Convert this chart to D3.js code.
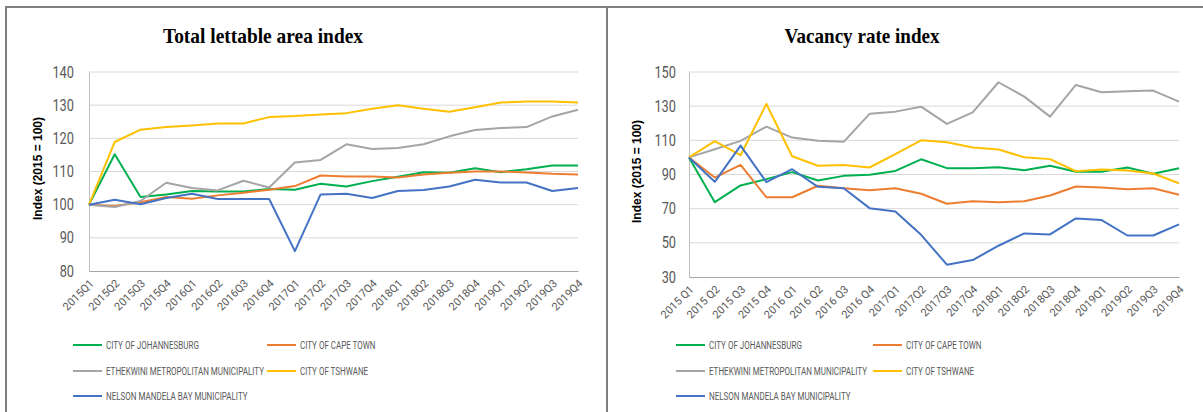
<!DOCTYPE html>
<html>
<head>
<meta charset="utf-8">
<script src="https://cdn.jsdelivr.net/npm/d3@7"></script>
<style>
  html, body { margin: 0; padding: 0; background: #fff; }
  svg { display: block; }
</style>
</head>
<body>
<svg id="chart" width="1203" height="412"></svg>
<script>
// Quarter labels for each panel
const quartersLettable = ["2015Q1","2015Q2","2015Q3","2015Q4","2016Q1","2016Q2","2016Q3","2016Q4",
  "2017Q1","2017Q2","2017Q3","2017Q4","2018Q1","2018Q2","2018Q3","2018Q4","2019Q1","2019Q2","2019Q3","2019Q4"];
const quartersVacancy = ["2015 Q1","2015 Q2","2015 Q3","2015 Q4","2016 Q1","2016 Q2","2016 Q3","2016 Q4",
  "2017Q1","2017Q2","2017Q3","2017Q4","2018Q1","2018Q2","2018Q3","2018Q4","2019Q1","2019Q2","2019Q3","2019Q4"];

const seriesNames = ["CITY OF JOHANNESBURG","CITY OF CAPE TOWN","ETHEKWINI METROPOLITAN MUNICIPALITY",
  "CITY OF TSHWANE","NELSON MANDELA BAY MUNICIPALITY"];

// Total lettable area index (2015 = 100)
const lettableJhb = [100,115.2,102.3,103.1,104.1,104,104,104.7,104.5,106.3,105.5,107.1,108.4,109.8,109.6,111,109.8,110.7,111.8,111.8];
const lettableCpt = [100,99.6,100.7,102.3,101.8,102.8,103.6,104.5,105.6,108.8,108.5,108.5,108.2,109.1,109.6,110,110,109.7,109.3,109.1];
const lettableEth = [100,99.3,101.1,106.6,105,104.3,107.2,105.2,112.7,113.5,118.2,116.8,117.1,118.2,120.6,122.5,123.1,123.4,126.6,128.6];
const lettableTsh = [100,118.9,122.6,123.4,123.9,124.5,124.5,126.4,126.7,127.2,127.6,128.9,130,128.9,128,129.4,130.8,131.1,131.1,130.8];
const lettableNmb = [100,101.5,100.1,102,103.3,101.7,101.7,101.7,86,103.1,103.3,102,104.1,104.4,105.5,107.5,106.7,106.7,104.1,105];

// Vacancy rate index (2015 = 100)
const vacancyJhb = [100,73.8,83.6,87.3,91.4,86.5,89.2,89.8,92.1,98.9,93.7,93.7,94.3,92.5,95.1,91.6,91.6,94.1,90.4,93.7];
const vacancyCpt = [100,88.2,95.6,76.7,76.7,83.4,82,80.8,82,78.7,72.9,74.4,73.8,74.4,77.7,83,82.4,81.4,82,78.1];
const vacancyEth = [100,104.8,109.7,118,111.6,109.7,109.1,125.5,126.8,129.7,119.6,126.4,144,135.6,123.9,142.4,138.1,138.7,139.1,132.7];
const vacancyTsh = [100,109.5,101.3,131.3,100.7,95.1,95.6,94.1,101.9,110,108.9,105.8,104.6,100.1,99,91.9,92.9,92.3,90.6,84.9];
const vacancyNmb = [100,85.7,106.9,85.5,93.1,82.8,82,70.3,68.4,54.7,37.2,39.9,48.3,55.5,54.9,64.3,63.3,54.3,54.3,60.8];

// Y axis ticks
const ticksLettable = [80,90,100,110,120,130,140];
const ticksVacancy = [30,50,70,90,110,130,150];

const colors = ["#00B050","#ED7D31","#A5A5A5","#FFC000","#4472C4"];
const tickFont = "Roboto,'Liberation Sans',sans-serif";
const textGray = "#595959";

const svg = d3.select("#chart");

// Panel frame
const frame = svg.append("g").attr("stroke", "#7f7f7f").attr("stroke-width", 2);
frame.append("line").attr("x1", 5).attr("x2", 1203).attr("y1", 7).attr("y2", 7);
frame.append("line").attr("x1", 6).attr("x2", 6).attr("y1", 6).attr("y2", 412);
frame.append("line").attr("x1", 607).attr("x2", 607).attr("y1", 6).attr("y2", 412);

function panel(cfg) {
  const g = svg.append("g");
  const x = d3.scalePoint().domain(cfg.categories).range([cfg.left, cfg.right]);
  const y = d3.scaleLinear().domain(d3.extent(cfg.ticks)).range([cfg.bottom, cfg.top]);

  // Title
  g.append("text")
    .attr("x", cfg.titleX).attr("y", 43)
    .attr("text-anchor", "middle")
    .attr("font-family", "'Liberation Serif','DejaVu Serif',serif")
    .attr("font-weight", "bold")
    .attr("font-size", 21)
    .attr("textLength", cfg.titleWidth).attr("lengthAdjust", "spacingAndGlyphs")
    .attr("fill", "#000")
    .text(cfg.title);

  // Gridlines
  g.append("g").selectAll("line").data(cfg.ticks.slice(1)).join("line")
    .attr("x1", cfg.left).attr("x2", cfg.right)
    .attr("y1", d => y(d)).attr("y2", d => y(d))
    .attr("stroke", "#d9d9d9").attr("stroke-width", 1);

  // Y axis (condensed tick labels)
  const yAxis = g.append("g")
    .attr("transform", `translate(${cfg.left},0)`)
    .call(d3.axisLeft(y).tickValues(cfg.ticks).tickSize(0));
  yAxis.select(".domain").attr("stroke", "#bfbfbf").attr("stroke-width", 1);
  yAxis.selectAll("text")
    .attr("x", 0)
    .attr("transform", `translate(${-cfg.tickPad},0) scale(0.8,1)`)
    .attr("font-family", tickFont).attr("font-size", 16).attr("fill", textGray);

  // X axis
  const xAxis = g.append("g")
    .attr("transform", `translate(0,${cfg.bottom})`)
    .call(d3.axisBottom(x).tickSize(0).tickPadding(0));
  xAxis.select(".domain").attr("stroke", "#a6a6a6").attr("stroke-width", 1.2);
  xAxis.selectAll("text")
    .attr("font-family", tickFont).attr("font-size", 11).attr("fill", textGray)
    .attr("text-anchor", "end")
    .attr("dy", 0)
    .attr("transform", "translate(5,13) rotate(-45)");

  // Y axis title
  g.append("text")
    .attr("transform", `translate(${cfg.yTitleX},${(cfg.top + cfg.bottom) / 2 - 3}) rotate(-90)`)
    .attr("text-anchor", "middle")
    .attr("font-family", "'Liberation Sans',Arial,sans-serif")
    .attr("font-weight", "bold")
    .attr("font-size", 12)
    .attr("fill", "#000")
    .text("Index (2015 = 100)");

  // Series lines
  const line = d3.line().x((d, i) => x(cfg.categories[i])).y(d => y(d));
  g.append("g").selectAll("path").data(cfg.series).join("path")
    .attr("d", d => line(d))
    .attr("fill", "none")
    .attr("stroke", (d, i) => colors[i])
    .attr("stroke-width", 2)
    .attr("stroke-linejoin", "round");

  // Legend
  const legendCols = [cfg.legendX1, cfg.legendX2];
  const legendRows = [345, 371, 396];
  const items = seriesNames.map((name, i) => ({ name, i, col: i % 2, row: Math.floor(i / 2) }));
  const leg = g.append("g").selectAll("g").data(items).join("g")
    .attr("transform", d => `translate(${legendCols[d.col]},${legendRows[d.row]})`);
  leg.append("line").attr("x1", 0).attr("x2", 29).attr("y1", 0).attr("y2", 0)
    .attr("stroke", d => colors[d.i]).attr("stroke-width", 2);
  leg.append("text")
    .attr("transform", "translate(33,0) scale(0.8,1)")
    .attr("dy", "0.35em")
    .attr("font-family", tickFont).attr("font-size", 10).attr("fill", textGray)
    .text(d => d.name);
}

panel({
  title: "Total lettable area index", titleX: 263, titleWidth: 200,
  categories: quartersLettable, ticks: ticksLettable,
  series: [lettableJhb, lettableCpt, lettableEth, lettableTsh, lettableNmb],
  left: 89, right: 578, top: 72, bottom: 271, tickPad: 15, yTitleX: 42,
  legendX1: 73, legendX2: 267
});

panel({
  title: "Vacancy rate index", titleX: 862, titleWidth: 155,
  categories: quartersVacancy, ticks: ticksVacancy,
  series: [vacancyJhb, vacancyCpt, vacancyEth, vacancyTsh, vacancyNmb],
  left: 689, right: 1179, top: 72, bottom: 277, tickPad: 13, yTitleX: 641,
  legendX1: 676, legendX2: 873
});
</script>
</body>
</html>
